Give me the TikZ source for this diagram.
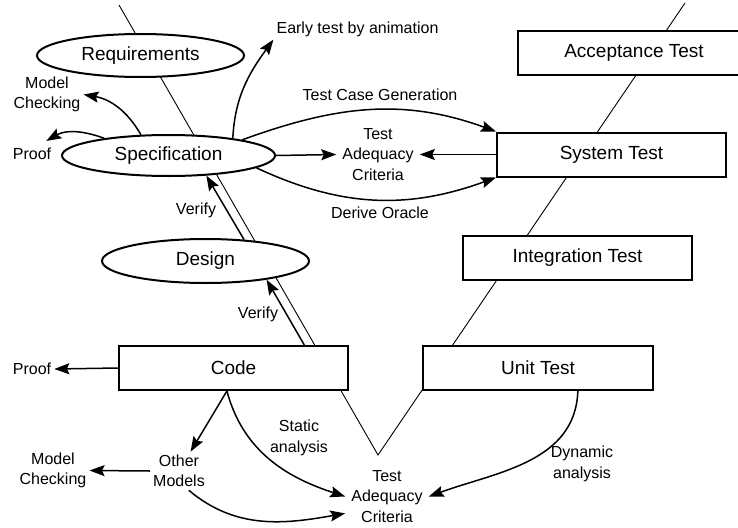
\documentclass[tikz,border=0pt]{standalone}
\usepackage{fontspec}
\setmainfont{Liberation Sans}
\usetikzlibrary{shapes.geometric,arrows.meta,calc}

\tikzset{
  phase/.style={ellipse, draw, line width=2pt, fill=white, inner sep=0pt, font=\fontsize{19}{22}\selectfont},
  level/.style={rectangle, draw, line width=2pt, fill=white, inner sep=0pt, minimum height=44pt, font=\fontsize{19}{22}\selectfont},
  lbl/.style={align=center, inner sep=3pt, font=\fontsize{16}{20.5}\selectfont},
  arr/.style={line width=1.5pt, -{Stealth[length=15pt,width=11pt,inset=2.5pt]}},
  vee/.style={line width=0.9pt},
}

\begin{document}
\begin{tikzpicture}[x=1pt,y=-1pt]
  \clip (0,0) rectangle (738,527);

  % the V behind everything
  \coordinate (vl) at (119,5);
  \coordinate (vb) at (378,455);
  \coordinate (vr) at (685,3);
  \draw[vee] (vl) -- (vb) -- (vr);

  % left side: models
  \node[phase, minimum width=207pt, minimum height=43pt] (req) at (140.5,55.5) {Requirements};
  \node[phase, minimum width=213pt, minimum height=41pt] (spec) at (168.5,155.5) {Specification};
  \node[phase, minimum width=207pt, minimum height=44pt] (design) at (205.5,261) {Design};
  \node[level, minimum width=229pt] (code) at (233.5,368) {Code};

  % right side: test levels
  \node[level, minimum width=230pt] (unit) at (538,368) {Unit Test};
  \node[level, minimum width=229pt] (integ) at (577.5,258) {Integration Test};
  \node[level, minimum width=229pt] (sys) at (611.5,154.5) {System Test};
  \node[level, minimum width=232pt] (acc) at (634,53) {Acceptance Test};

  % labels
  \node[lbl] (early) at (357.5,29) {Early test by animation};
  \node[lbl] (mc1) at (47,94.5) {Model\\Checking};
  \node[lbl] (proof1) at (32,154) {Proof};
  \node[lbl] (tcg) at (380,95) {Test Case Generation};
  \node[lbl, inner sep=6pt] (tac1) at (378,154.5) {Test\\Adequacy\\Criteria};
  \node[lbl] (oracle) at (380,213) {Derive Oracle};
  \node[lbl] (ver1) at (196,210) {Verify};
  \node[lbl] (ver2) at (258,314) {Verify};
  \node[lbl] (proof2) at (32,369) {Proof};
  \node[lbl] (other) at (179,471) {Other\\Models};
  \node[lbl] (mc2) at (53,470.5) {Model\\Checking};
  \node[lbl] (stat) at (299,438) {Static\\analysis};
  \node[lbl, inner sep=6pt] (tac2) at (387,496.5) {Test\\Adequacy\\Criteria};
  \node[lbl] (dyn) at (582,464) {Dynamic\\analysis};

  % from the specification
  \draw[arr] (spec.15) to[out=87,in=234] (early.south west);
  \draw[arr] (spec.143) to[out=120,in=-10] (mc1.east);
  \draw[arr] (spec.165) to[out=160,in=30] ($(proof1.north east)+(-8,-4)$);
  \draw[arr] (spec.east) -- (tac1.west);
  \draw[arr] (sys.west) -- (tac1.east);
  \draw[arr] (spec.12) to[out=20,in=160] (sys.north west);
  \draw[arr] (spec.-8) to[out=-25,in=200] (sys.south west);

  % verify steps
  \draw[arr] (design.29) -- (spec.-28);
  \draw[arr] (code.18) -- (design.-17);

  % from the code
  \draw[arr] (code.west) -- (proof2.east);
  \draw[arr] (code.-106) -- (other);
  \draw[arr] (code.-106) to[out=-75,in=162] (tac2.west);
  \draw[arr] (other.west) -- (mc2.east);
  \draw[arr] (other.-63) to[out=-40,in=190] (tac2.-158);
  \draw[arr] (unit.-30) to[out=-92,in=20] (tac2.east);
\end{tikzpicture}
\end{document}
